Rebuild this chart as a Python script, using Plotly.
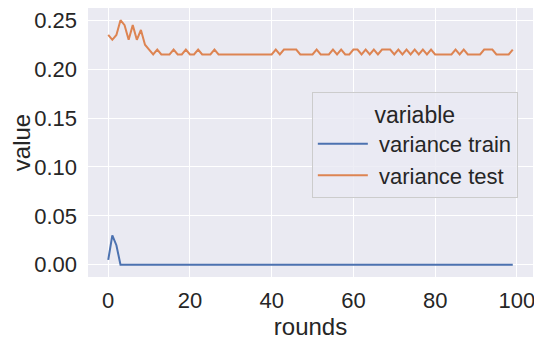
import plotly.graph_objects as go

rounds = list(range(100))

variance_train = [
    0.005, 0.030, 0.020, 0.0, 0.0, 0.0, 0.0, 0.0, 0.0, 0.0,
    0.0, 0.0, 0.0, 0.0, 0.0, 0.0, 0.0, 0.0, 0.0, 0.0,
    0.0, 0.0, 0.0, 0.0, 0.0, 0.0, 0.0, 0.0, 0.0, 0.0,
    0.0, 0.0, 0.0, 0.0, 0.0, 0.0, 0.0, 0.0, 0.0, 0.0,
    0.0, 0.0, 0.0, 0.0, 0.0, 0.0, 0.0, 0.0, 0.0, 0.0,
    0.0, 0.0, 0.0, 0.0, 0.0, 0.0, 0.0, 0.0, 0.0, 0.0,
    0.0, 0.0, 0.0, 0.0, 0.0, 0.0, 0.0, 0.0, 0.0, 0.0,
    0.0, 0.0, 0.0, 0.0, 0.0, 0.0, 0.0, 0.0, 0.0, 0.0,
    0.0, 0.0, 0.0, 0.0, 0.0, 0.0, 0.0, 0.0, 0.0, 0.0,
    0.0, 0.0, 0.0, 0.0, 0.0, 0.0, 0.0, 0.0, 0.0, 0.0,
]

variance_test = [
    0.235, 0.230, 0.235, 0.250, 0.245, 0.230, 0.245, 0.230, 0.240, 0.225,
    0.220, 0.215, 0.220, 0.215, 0.215, 0.215, 0.220, 0.215, 0.215, 0.220,
    0.215, 0.215, 0.220, 0.215, 0.215, 0.215, 0.220, 0.215, 0.215, 0.215,
    0.215, 0.215, 0.215, 0.215, 0.215, 0.215, 0.215, 0.215, 0.215, 0.215,
    0.215, 0.220, 0.215, 0.220, 0.220, 0.220, 0.220, 0.215, 0.215, 0.215,
    0.215, 0.220, 0.215, 0.215, 0.215, 0.220, 0.215, 0.220, 0.215, 0.215,
    0.220, 0.220, 0.215, 0.220, 0.215, 0.220, 0.215, 0.220, 0.220, 0.220,
    0.215, 0.220, 0.215, 0.220, 0.215, 0.220, 0.215, 0.220, 0.215, 0.220,
    0.215, 0.215, 0.215, 0.215, 0.215, 0.220, 0.215, 0.220, 0.215, 0.215,
    0.215, 0.215, 0.220, 0.220, 0.220, 0.215, 0.215, 0.215, 0.215, 0.220,
]

x_ticks = [0, 20, 40, 60, 80, 100]
y_ticks = [0.00, 0.05, 0.10, 0.15, 0.20, 0.25]

text_color = "#262626"
font_family = "Liberation Sans, Arial, sans-serif"

fig = go.Figure()
fig.add_trace(go.Scatter(
    x=rounds, y=variance_train, mode="lines",
    name=" variance train",
    line=dict(color="#4C72B0", width=2),
))
fig.add_trace(go.Scatter(
    x=rounds, y=variance_test, mode="lines",
    name=" variance test",
    line=dict(color="#DD8452", width=2),
))

# the page body adds an 8px margin, so the figure is 8px smaller and shifted
fig.update_layout(
    width=534, height=334,
    margin=dict(l=80, r=9, t=0, b=65),
    paper_bgcolor="white",
    plot_bgcolor="#EAEAF2",
    font=dict(family=font_family, size=22, color=text_color),
    showlegend=True,
    legend=dict(
        title=dict(text="variable", side="top center", font=dict(size=23)),
        x=0.503, y=0.688, xanchor="left", yanchor="top",
        bgcolor="rgba(234,234,242,0.8)",
        bordercolor="#CCCCCC", borderwidth=1,
        font=dict(size=22),
        itemwidth=50,
        tracegroupgap=0,
    ),
)
fig.update_xaxes(
    range=[-4.95, 103.95], tickvals=x_ticks,
    showgrid=True, gridcolor="white", gridwidth=1.3,
    zeroline=False, showline=False, automargin=False,
    ticklabelstandoff=8, ticklabeloverflow="allow",
    title=dict(text="rounds", font=dict(size=24), standoff=0),
)
fig.update_yaxes(
    range=[-0.0125, 0.2625], tickvals=y_ticks, tickformat=".2f",
    showgrid=True, gridcolor="white", gridwidth=1.3,
    zeroline=False, showline=False, automargin=False,
    ticklabelstandoff=10, ticklabeloverflow="allow",
    title=dict(text="value", font=dict(size=24), standoff=8),
)

fig.write_html("out.html")
